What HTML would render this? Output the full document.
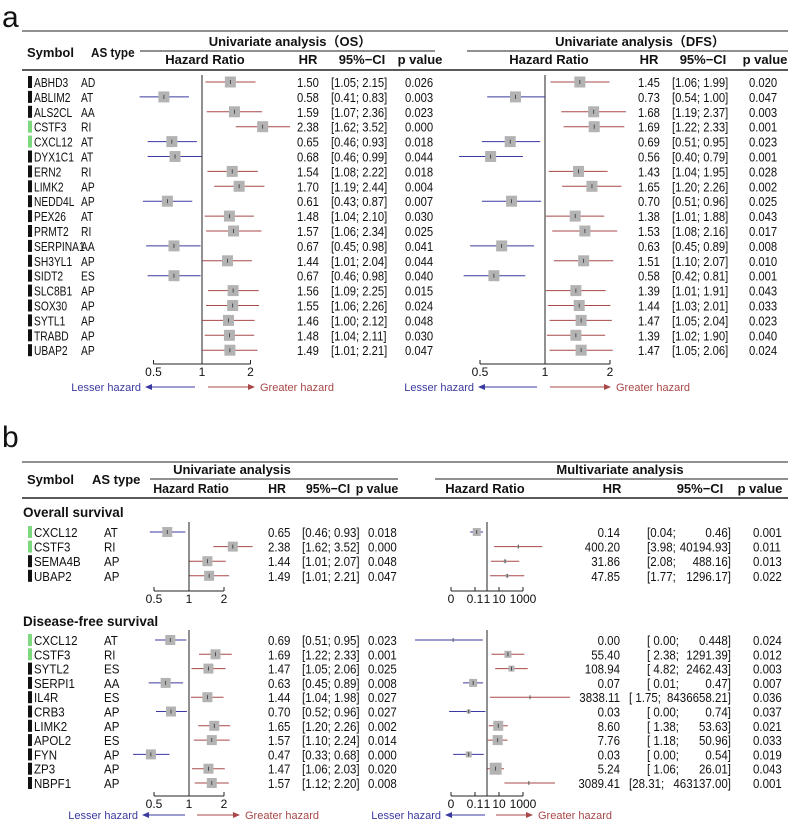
<!DOCTYPE html>
<html><head><meta charset="utf-8"><style>
html,body{margin:0;padding:0;background:#fff;}
svg{display:block;font-family:"Liberation Sans","Noto Sans CJK SC",sans-serif;}
</style></head><body>
<svg id="chart" width="790" height="820" viewBox="0 0 790 820" xmlns="http://www.w3.org/2000/svg"></svg>
<script>
// ---------- Panel a data ----------
const aSymbols = ["ABHD3","ABLIM2","ALS2CL","CSTF3","CXCL12","DYX1C1","ERN2","LIMK2","NEDD4L","PEX26","PRMT2","SERPINA1","SH3YL1","SIDT2","SLC8B1","SOX30","SYTL1","TRABD","UBAP2"];
const aTypes = ["AD","AT","AA","RI","AT","AT","RI","AP","AP","AT","RI","AA","AP","ES","AP","AP","AP","AP","AP"];
const aGreen = [0,0,0,1,1,0,0,0,0,0,0,0,0,0,0,0,0,0,0];
const osHR = [1.50,0.58,1.59,2.38,0.65,0.68,1.54,1.70,0.61,1.48,1.57,0.67,1.44,0.67,1.56,1.55,1.46,1.48,1.49];
const osLo = [1.05,0.41,1.07,1.62,0.46,0.46,1.08,1.19,0.43,1.04,1.06,0.45,1.01,0.46,1.09,1.06,1.00,1.04,1.01];
const osHi = [2.15,0.83,2.36,3.52,0.93,0.99,2.22,2.44,0.87,2.10,2.34,0.98,2.04,0.98,2.25,2.26,2.12,2.11,2.21];
const osP = ["0.026","0.003","0.023","0.000","0.018","0.044","0.018","0.004","0.007","0.030","0.025","0.041","0.044","0.040","0.015","0.024","0.048","0.030","0.047"];
const dfsHR = [1.45,0.73,1.68,1.69,0.69,0.56,1.43,1.65,0.70,1.38,1.53,0.63,1.51,0.58,1.39,1.44,1.47,1.39,1.47];
const dfsLo = [1.06,0.54,1.19,1.22,0.51,0.40,1.04,1.20,0.51,1.01,1.08,0.45,1.10,0.42,1.01,1.03,1.05,1.02,1.05];
const dfsHi = [1.99,1.00,2.37,2.33,0.95,0.79,1.95,2.26,0.96,1.88,2.16,0.89,2.07,0.81,1.91,2.01,2.04,1.90,2.06];
const dfsP = ["0.020","0.047","0.003","0.001","0.023","0.001","0.028","0.002","0.025","0.043","0.017","0.008","0.010","0.001","0.043","0.033","0.023","0.040","0.024"];
const aTicks = [0.5,1,2];

// ---------- Panel b data ----------
const bOsSymbols = ["CXCL12","CSTF3","SEMA4B","UBAP2"];
const bOsTypes = ["AT","RI","AP","AP"];
const bOsGreen = [1,1,0,0];
const bOsUniHR = [0.65,2.38,1.44,1.49];
const bOsUniLo = [0.46,1.62,1.01,1.01];
const bOsUniHi = [0.93,3.52,2.07,2.21];
const bOsUniP = ["0.018","0.000","0.048","0.047"];
const bOsMulHR = [0.14,400.20,31.86,47.85];
const bOsMulLo = [0.04,3.98,2.08,1.77];
const bOsMulHi = [0.46,40194.93,488.16,1296.17];
const bOsMulCILo = ["[0.04;","[3.98;","[2.08;","[1.77;"];
const bOsMulCIHi = ["0.46]","40194.93]","488.16]","1296.17]"];
const bOsMulP = ["0.001","0.011","0.013","0.022"];
const bOsMulW = [8,2,3,3];

const bDfSymbols = ["CXCL12","CSTF3","SYTL2","SERPI1","IL4R","CRB3","LIMK2","APOL2","FYN","ZP3","NBPF1"];
const bDfTypes = ["AT","RI","ES","AA","ES","AP","AP","ES","AP","AP","AP"];
const bDfGreen = [1,1,0,0,0,0,0,0,0,0,0];
const bDfUniHR = [0.69,1.69,1.47,0.63,1.44,0.70,1.65,1.57,0.47,1.47,1.57];
const bDfUniLo = [0.51,1.22,1.05,0.45,1.04,0.52,1.20,1.10,0.33,1.06,1.12];
const bDfUniHi = [0.95,2.33,2.06,0.89,1.98,0.96,2.26,2.24,0.68,2.03,2.20];
const bDfUniP = ["0.023","0.001","0.025","0.008","0.027","0.027","0.002","0.014","0.000","0.020","0.008"];
const bDfMulHR = [0.0015,55.40,108.94,0.07,3838.11,0.03,8.60,7.76,0.03,5.24,3089.41];
const bDfMulLo = [0.000001,2.38,4.82,0.01,1.75,0.0007,1.38,1.18,0.0015,1.06,28.31];
const bDfMulHi = [0.448,1291.39,2462.43,0.47,8436658.21,0.74,53.63,50.96,0.54,26.01,463137.0];
const bDfMulCILo = ["[ 0.00;","[ 2.38;","[ 4.82;","[ 0.01;","[ 1.75;","[ 0.00;","[ 1.38;","[ 1.18;","[ 0.00;","[ 1.06;","[28.31;"];
const bDfMulCIHi = ["0.448]","1291.39]","2462.43]","0.47]","8436658.21]","0.74]","53.63]","50.96]","0.54]","26.01]","463137.00]"];
const bDfMulP = ["0.024","0.012","0.003","0.007","0.036","0.037","0.021","0.033","0.019","0.043","0.001"];
const bDfMulW = [1,7,6,8,1,4,10,10,6,12,1];
const bUniTicks = [0.5,1,2];
const bMulTicks = [0.001,0.1,1,10,1000];
const bMulTickLabels = ["0","0.1","1","10","1000"];

// ---------- helpers ----------
const svg = document.getElementById('chart');
const NS = "http://www.w3.org/2000/svg";
const RED = "#a84848", BLUE = "#3a3aa0", SQ = "#b3b3b3";
function mk(tag, attrs, parent){
  const e = document.createElementNS(NS, tag);
  for (const k in attrs) e.setAttribute(k, attrs[k]);
  (parent||svg).appendChild(e);
  return e;
}
function txt(x,y,s,opt){
  opt=opt||{};
  const e = mk('text',{x:x,y:y,'font-size':opt.size||12,'fill':opt.fill||'#111','text-anchor':opt.anchor||'start','font-weight':opt.bold?'bold':'normal'});
  e.textContent = s;
  
  
  if (opt.cond){
    const L = e.getComputedTextLength();
    if (L>0){ e.setAttribute('textLength', (L*opt.cond).toFixed(1)); e.setAttribute('lengthAdjust','spacingAndGlyphs'); }
  }
  return e;
}
function ln(x1,y1,x2,y2,stroke,w,name){
  const e = mk('line',{x1:x1,y1:y1,x2:x2,y2:y2,stroke:stroke||'#222','stroke-width':w||1});
  
  
  return e;
}
function mark(scale,y,hr,lo,hi,w,minX,name){
  const col = hr>=1?RED:BLUE;
  const x1 = Math.max(minX||0, scale(lo)), x2 = scale(hi), xc = scale(hr);
  const g = mk('g',{});
  
  
  mk('line',{x1:x1,y1:y,x2:x2,y2:y,stroke:col,'stroke-width':1},g);
  if (w>0) mk('rect',{x:xc-w/2,y:y-w/2,width:w,height:w,fill:SQ},g);
  mk('line',{x1:xc,y1:y-2,x2:xc,y2:y+2,stroke:'#333','stroke-width':0.8},g);
}
function axis(scale,ticks,labels,y,name){
  ln(scale(ticks[0]),y,scale(ticks[ticks.length-1]),y,'#222',1,name+'-line');
  ticks.forEach((t,i)=>{
    ln(scale(t),y,scale(t),y-4,'#222',1,name+'-tick');
    txt(scale(t),y+12,labels?labels[i]:String(t),{anchor:'middle',size:12,name:name+'-tick-label'});
  });
}
function arrows(lx1,lx2,rx1,rx2,y){
  txt(lx1-4,y+4,"Lesser hazard",{anchor:'end',fill:BLUE,size:11,name:'lesser-hazard-label'});
  ln(lx1+5,y,lx2,y,BLUE,1,'lesser-hazard-arrow');
  const p1 = mk('polygon',{points:`${lx1},${y} ${lx1+7},${y-3} ${lx1+7},${y+3}`,fill:BLUE});
  
  
  ln(rx1,y,rx2-5,y,RED,1,'greater-hazard-arrow');
  const p2 = mk('polygon',{points:`${rx2},${y} ${rx2-7},${y-3} ${rx2-7},${y+3}`,fill:RED});
  
  
  txt(rx2+5,y+4,"Greater hazard",{fill:RED,size:11,name:'greater-hazard-label'});
}
function symbolCell(x,y,sym,type,green,typeX,cond){
  const r = mk('rect',{x:x,y:y-6,width:4,height:12,fill:green?'#7ed87e':'#111'});
  
  
  txt(x+6,y+5,sym,{size:12.5,name:'gene-symbol',cond:cond});
  txt(typeX,y+5,type,{size:12.5,name:'as-type',cond:cond});
}
const f2 = v=>v.toFixed(2);

// ---------- Panel a ----------
const CA = 0.82;
txt(2,27,"a",{size:30,name:'panel-a-label'});
ln(22,31,788,31,'#222',1,'panel-a-top-rule');
txt(290,46,"Univariate analysis（OS）",{anchor:'middle',size:13,bold:true,name:'os-title'});
txt(640,46,"Univariate analysis（DFS）",{anchor:'middle',size:13,bold:true,name:'dfs-title'});
ln(140,51,435,51,'#222',1,'os-subrule');
ln(467,51,788,51,'#222',1,'dfs-subrule');
txt(27,57,"Symbol",{size:13,bold:true,name:'symbol-header'});
txt(91,57,"AS type",{size:13,bold:true,name:'astype-header',cond:0.9});
[[205,"Hazard Ratio"],[308,"HR"],[362,"95%−CI"],[420,"p value"]].forEach(([x,s])=>txt(x,64,s,{anchor:'middle',size:13,bold:true,name:'os-column-header'}));
[[549,"Hazard Ratio"],[649,"HR"],[703,"95%−CI"],[765,"p value"]].forEach(([x,s])=>txt(x,64,s,{anchor:'middle',size:13,bold:true,name:'dfs-column-header'}));
ln(22,70,788,70,'#222',1.5,'panel-a-header-rule');

const xa = v=>202+48.5*Math.log2(v);
const xd = v=>545+65*Math.log2(v);
ln(xa(1),75,xa(1),364,'#222',1,'os-reference-line');
ln(xd(1),75,xd(1),364,'#222',1,'dfs-reference-line');
aSymbols.forEach((s,i)=>{
  const y = 82+i*14.9;
  symbolCell(28,y,s,aTypes[i],aGreen[i],81,CA);
  mark(xa,y,osHR[i],osLo[i],osHi[i],11,0,'os-forest-mark');
  txt(297,y+5,f2(osHR[i]),{size:12.5,name:'os-hr-value',cond:0.9});
  txt(331,y+5,`[${f2(osLo[i])}; ${f2(osHi[i])}]`,{size:12.5,name:'os-ci-value',cond:0.9});
  txt(405,y+5,osP[i],{size:12.5,name:'os-p-value',cond:0.9});
  mark(xd,y,dfsHR[i],dfsLo[i],dfsHi[i],11,0,'dfs-forest-mark');
  txt(638,y+5,f2(dfsHR[i]),{size:12.5,name:'dfs-hr-value',cond:0.9});
  txt(672,y+5,`[${f2(dfsLo[i])}; ${f2(dfsHi[i])}]`,{size:12.5,name:'dfs-ci-value',cond:0.9});
  txt(749,y+5,dfsP[i],{size:12.5,name:'dfs-p-value',cond:0.9});
});
axis(xa,aTicks,null,364,'os-x-axis');
axis(xd,aTicks,null,364,'dfs-x-axis');
arrows(145,195,208,255,387);
arrows(478,537,550,611,387);

// ---------- Panel b ----------
const CB = 0.92;
txt(2,447,"b",{size:30,name:'panel-b-label'});
ln(22,462,788,462,'#222',1,'panel-b-top-rule');
txt(232,474,"Univariate analysis",{anchor:'middle',size:13,bold:true,name:'univariate-title'});
txt(620,474,"Multivariate analysis",{anchor:'middle',size:13,bold:true,name:'multivariate-title'});
ln(150,479,398,479,'#222',1,'univariate-subrule');
ln(435,479,788,479,'#222',1,'multivariate-subrule');
txt(27,484,"Symbol",{size:13,bold:true,name:'symbol-header'});
txt(92,484,"AS type",{size:13,bold:true,name:'astype-header'});
[[191,"Hazard Ratio"],[277,"HR"],[328,"95%−CI"],[377,"p value"]].forEach(([x,s])=>txt(x,493,s,{anchor:'middle',size:13,bold:true,name:'univariate-column-header',cond:0.95}));
[[485,"Hazard Ratio"],[612,"HR"],[700,"95%−CI"],[760,"p value"]].forEach(([x,s])=>txt(x,493,s,{anchor:'middle',size:13,bold:true,name:'multivariate-column-header'}));
ln(22,498,788,498,'#222',1.5,'panel-b-header-rule');

const xu = v=>189+35*Math.log2(v);
const xm = v=>487+12*Math.log10(v);

function bSection(titleY,title,rowY0,step,syms,types,green,uHR,uLo,uHi,uP,mHR,mLo,mHi,mCILo,mCIHi,mP,mW,axisY,key){
  txt(23,titleY+5,title,{size:13.5,bold:true,name:key+'-section-title'});
  ln(xu(1),rowY0-10,xu(1),axisY,'#222',1,key+'-univariate-reference-line');
  ln(xm(1),rowY0-10,xm(1),axisY,'#222',1,key+'-multivariate-reference-line');
  syms.forEach((s,i)=>{
    const y = rowY0+i*step;
    symbolCell(28,y,s,types[i],green[i],104,CB);
    mark(xu,y,uHR[i],uLo[i],uHi[i],10,0,key+'-univariate-mark');
    txt(268,y+5,f2(uHR[i]),{size:12.5,name:key+'-univariate-hr',cond:CB});
    txt(302,y+5,`[${f2(uLo[i])}; ${f2(uHi[i])}]`,{size:12.5,name:key+'-univariate-ci',cond:CB});
    txt(368,y+5,uP[i],{size:12.5,name:key+'-univariate-p',cond:CB});
    mark(xm,y,mHR[i],mLo[i],mHi[i],mW[i],415,key+'-multivariate-mark');
    txt(620,y+5,f2(mHR[i]),{size:12.5,anchor:'end',name:key+'-multivariate-hr',cond:CB});
    const loX = mCIHi[i].length>9 ? 629 : 647;
    txt(loX,y+5,mCILo[i],{size:12.5,name:key+'-multivariate-ci-lower',cond:CB});
    txt(731,y+5,mCIHi[i],{size:12.5,anchor:'end',name:key+'-multivariate-ci-upper',cond:CB});
    txt(753,y+5,mP[i],{size:12.5,name:key+'-multivariate-p',cond:CB});
  });
  axis(xu,bUniTicks,null,axisY,key+'-univariate-x-axis');
  axis(xm,bMulTicks,bMulTickLabels,axisY,key+'-multivariate-x-axis');
}
bSection(512,"Overall survival",532,14.6,bOsSymbols,bOsTypes,bOsGreen,bOsUniHR,bOsUniLo,bOsUniHi,bOsUniP,bOsMulHR,bOsMulLo,bOsMulHi,bOsMulCILo,bOsMulCIHi,bOsMulP,bOsMulW,591,'os');
bSection(621,"Disease-free survival",640,14.3,bDfSymbols,bDfTypes,bDfGreen,bDfUniHR,bDfUniLo,bDfUniHi,bDfUniP,bDfMulHR,bDfMulLo,bDfMulHi,bDfMulCILo,bDfMulCIHi,bDfMulP,bDfMulW,796,'dfs');
arrows(142,185,197,240,815);
arrows(445,485,496,533,815);
</script>
</body></html>
